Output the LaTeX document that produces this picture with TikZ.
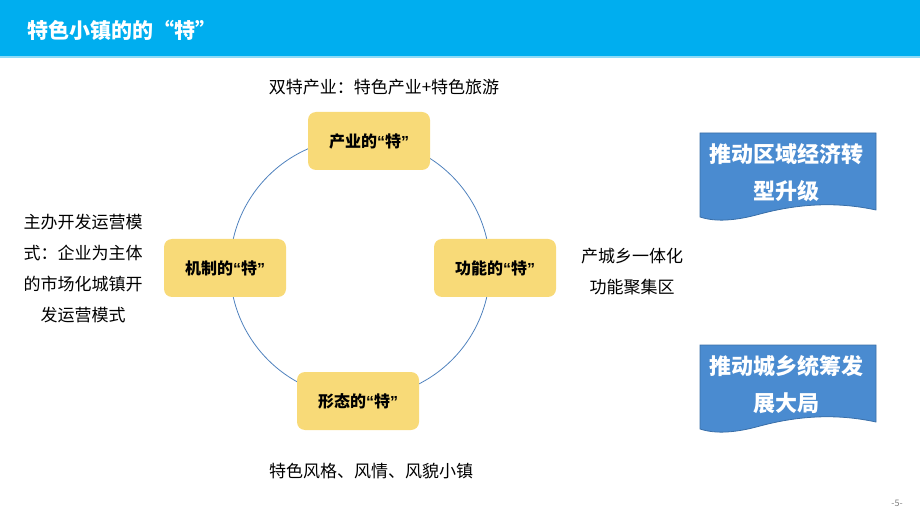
\documentclass[tikz,border=0pt]{standalone}
\usepackage{fontspec}
\setmainfont{Noto Sans CJK SC}
\newfontfamily\cjk{Noto Sans CJK SC}
\newfontfamily\lat{Liberation Sans}
\newcommand{\myLQ}{{\lat\bfseries “}}
\newcommand{\myRQ}{{\lat\bfseries ”}}
\definecolor{barblue}{HTML}{00AEEF}
\definecolor{barline}{HTML}{8FDBF7}
\definecolor{nodeyellow}{HTML}{F8DA78}
\definecolor{circleblue}{HTML}{4F81BD}
\definecolor{docblue}{HTML}{4A8BD0}
\definecolor{docedge}{HTML}{3A6FA8}
\begin{document}
\begin{tikzpicture}[x=1pt,y=1pt,
  feature/.style={fill=nodeyellow, rounded corners=8pt, minimum width=122pt, minimum height=58pt,
    font=\cjk\bfseries\fontsize{16}{19}\selectfont, text=black, inner sep=0pt},
  note/.style={font=\cjk\fontsize{17}{31}\selectfont, text=black, align=center, inner sep=0pt},
  doctext/.style={font=\cjk\bfseries\fontsize{22}{37}\selectfont, text=white, align=center, inner sep=0pt},
  docshape/.style={fill=docblue, draw=docedge, line width=0.8pt}
]
\useasboundingbox (0,0) rectangle (920,-518);
% title bar
\fill[barblue] (0,0) rectangle (920,-56);
\fill[barline] (0,-56) rectangle (920,-58);
\node[anchor=west, text=white, font=\cjk\bfseries\fontsize{21}{24}\selectfont, inner sep=0pt] (title) at (27,-30) {特色小镇的的“特”};
% circle
\coordinate (cc) at (360,-268);
\draw[circleblue, line width=0.8pt] (cc) circle (130pt);
% feature nodes
\node[feature] (top) at (369,-141) {产业的\myLQ 特\myRQ};
\node[feature] (left) at (225,-268) {机制的\myLQ 特\myRQ};
\node[feature] (right) at (495,-268) {功能的\myLQ 特\myRQ};
\node[feature] (bottom) at (358,-401) {形态的\myLQ 特\myRQ};
% notes
\node[note] (ntop) at (384,-87) {双特产业：特色产业+特色旅游};
\node[note] (nleft) at (83,-269) {主办开发运营模\\式：企业为主体\\的市场化城镇开\\发运营模式};
\node[note] (nright) at (632,-272) {产城乡一体化\\功能聚集区};
\node[note] (nbottom) at (371,-471) {特色风格、风情、风貌小镇};
% document shapes
\draw[docshape] (700,-133) -- (876,-133) -- (876,-210)
  .. controls (830,-200) and (790,-206) .. (760,-214)
  .. controls (735,-221) and (715,-222) .. (700,-217) -- cycle;
\node[doctext] (d1) at (786,-173) {推动区域经济转\\型升级};
\draw[docshape] (700,-345) -- (876,-345) -- (876,-422)
  .. controls (830,-412) and (790,-418) .. (760,-426)
  .. controls (735,-433) and (715,-434) .. (700,-429) -- cycle;
\node[doctext] (d2) at (786,-385) {推动城乡统筹发\\展大局};
% page number
\node[text=gray, font=\fontsize{9}{10}\selectfont, inner sep=0pt] (pg) at (897,-503) {-5-};
\end{tikzpicture}
\end{document}
